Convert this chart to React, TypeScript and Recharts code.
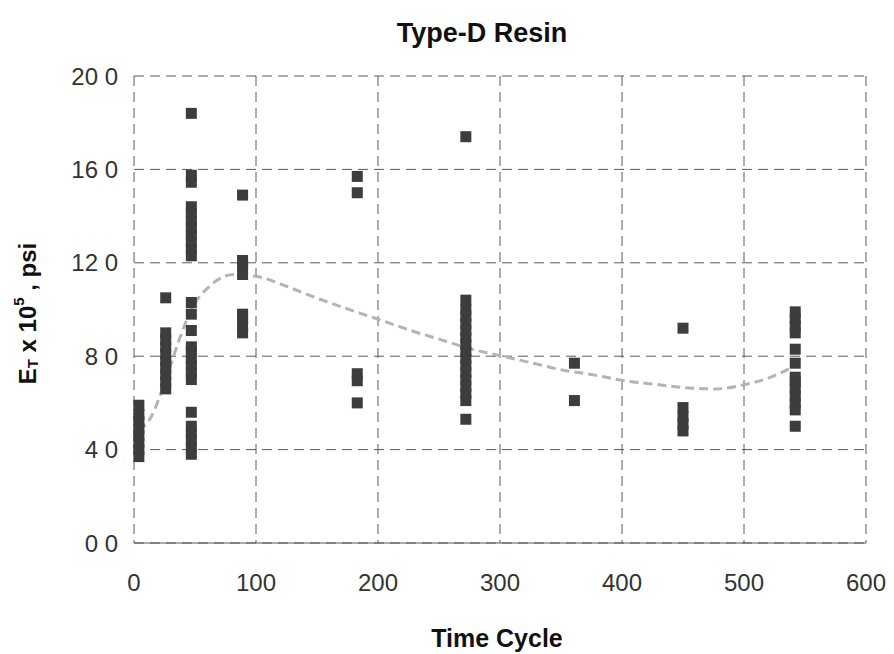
import { CartesianGrid, ComposedChart, Line, Scatter, XAxis, YAxis } from 'recharts'

// time cycles
const cycles = [4, 26, 47, 89, 183, 272, 361, 450, 542]

// E_T readings (x 10^5 psi) for each time cycle
const modulusAt0 = [3.7, 4.0, 4.3, 4.6, 4.9, 5.2, 5.5, 5.9]
const modulusAt22 = [6.6, 6.9, 7.2, 7.5, 7.8, 8.1, 8.4, 8.7, 9.0, 10.5]
const modulusAt45 = [
  3.8, 4.1, 4.4, 4.7, 5.0, 5.6, 7.0, 7.3, 7.6, 7.9, 8.2, 8.4, 9.1, 9.8, 10.3, 12.3, 12.6, 12.9,
  13.2, 13.5, 13.8, 14.1, 14.4, 15.45, 15.75, 18.4,
]
const modulusAt90 = [9.0, 9.3, 9.6, 9.8, 11.5, 11.9, 12.1, 14.9]
const modulusAt180 = [6.0, 6.95, 7.25, 15.0, 15.7]
const modulusAt270 = [
  5.3, 6.1, 6.4, 6.7, 7.0, 7.3, 7.6, 7.9, 8.2, 8.5, 8.8, 9.1, 9.4, 9.7, 10.0, 10.4, 17.4,
]
const modulusAt360 = [6.1, 7.7]
const modulusAt450 = [4.8, 5.1, 5.4, 5.8, 9.2]
const modulusAt540 = [5.0, 5.7, 6.0, 6.3, 6.6, 6.9, 7.1, 7.7, 8.3, 9.0, 9.3, 9.6, 9.9]

const modulusByCycle = [
  modulusAt0,
  modulusAt22,
  modulusAt45,
  modulusAt90,
  modulusAt180,
  modulusAt270,
  modulusAt360,
  modulusAt450,
  modulusAt540,
]

// fitted trend
const trendCycles = [
  4, 14, 26, 37, 47, 62, 82, 102, 127, 152, 182, 202, 227, 252, 277, 302, 327, 352, 377, 402,
  427, 452, 477, 502, 522, 542,
]
const trendModulus = [
  4.8, 5.4, 7.0, 8.7, 10.0, 11.0, 11.5, 11.4, 10.95, 10.45, 9.9, 9.55, 9.1, 8.7, 8.3, 8.0, 7.7,
  7.4, 7.2, 6.95, 6.8, 6.65, 6.6, 6.8, 7.1, 7.6,
]

const xTicks = [0, 100, 200, 300, 400, 500, 600]
const yTicks = [0, 4, 8, 12, 16, 20]

const points = cycles.flatMap((c, i) => modulusByCycle[i].map((v) => ({ x: c, y: v })))
const trend = trendCycles.map((c, i) => ({ x: c, y: trendModulus[i] }))

const FONT = 'Arial, "Liberation Sans", sans-serif'

function SquareMark(props: any) {
  const { cx, cy } = props
  if (cx == null || cy == null) return null
  return <rect x={cx - 5.5} y={cy - 5.5} width={11} height={11} fill="#3d3d3d" />
}

function YTitle(props: any) {
  const vb = props.viewBox
  const cx = vb.x + 27
  const cy = vb.y + vb.height / 2 + 4
  return (
    <text
      x={cx}
      y={cy}
      transform={`rotate(-90, ${cx}, ${cy})`}
      textAnchor="middle"
      dominantBaseline="central"
      fontFamily={FONT}
      fontWeight="bold"
      fontSize={24}
      fill="#111"
    >
      E
      <tspan fontSize={15} dy={5}>
        T
      </tspan>
      <tspan dy={-5}> x 10</tspan>
      <tspan fontSize={15} dy={-9}>
        5
      </tspan>
      <tspan dy={9}> , psi</tspan>
    </text>
  )
}

function XTitle(props: any) {
  const vb = props.viewBox
  return (
    <text
      x={vb.x + vb.width / 2 - 3}
      y={vb.y + 104}
      textAnchor="middle"
      fontFamily={FONT}
      fontWeight="bold"
      fontSize={25}
      fill="#111"
    >
      Time Cycle
    </text>
  )
}

export default function App() {
  return (
    <div style={{ position: 'absolute', left: 0, top: 0, width: 894, height: 654, background: '#fff' }}>
      <svg
        width={894}
        height={60}
        style={{ position: 'absolute', left: 0, top: 0, pointerEvents: 'none' }}
      >
        <text
          x={482}
          y={42}
          textAnchor="middle"
          fontFamily={FONT}
          fontWeight="bold"
          fontSize={27}
          fill="#111"
        >
          Type-D Resin
        </text>
      </svg>
      <ComposedChart
        width={894}
        height={654}
        margin={{ top: 76, right: 28, bottom: 0, left: 0 }}
      >
        <CartesianGrid stroke="#5a5a5a" strokeDasharray="10 6" />
        <XAxis
          dataKey="x"
          type="number"
          domain={[0, 600]}
          ticks={xTicks}
          height={111}
          tickLine={false}
          tickMargin={25}
          axisLine={{ stroke: '#555' }}
          tick={{ fill: '#333', fontSize: 24, fontFamily: FONT }}
          label={{ content: XTitle }}
        />
        <YAxis
          dataKey="y"
          type="number"
          domain={[0, 20]}
          ticks={yTicks}
          width={134}
          tickLine={false}
          tickMargin={10}
          axisLine={false}
          tick={{ fill: '#333', fontSize: 24, fontFamily: FONT }}
          tickFormatter={(v) => `${v} 0`}
          label={{ content: YTitle }}
        />
        <Scatter data={points} dataKey="y" shape={SquareMark} isAnimationActive={false} />
        <Line
          data={trend}
          dataKey="y"
          type="monotone"
          stroke="#b4b4b4"
          strokeWidth={3}
          strokeDasharray="9 5"
          dot={false}
          activeDot={false}
          isAnimationActive={false}
        />
      </ComposedChart>
    </div>
  )
}
